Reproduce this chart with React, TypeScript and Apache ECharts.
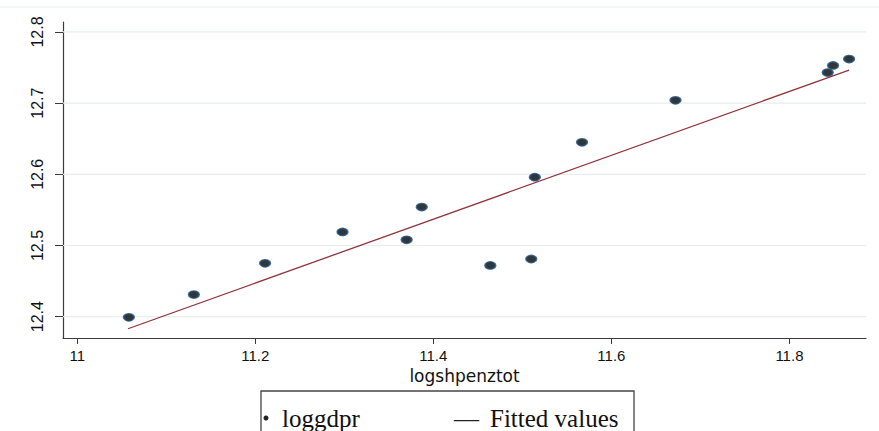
import React, { useEffect, useRef } from 'react';
import * as echarts from 'echarts';

const xValues = [11.058, 11.131, 11.211, 11.298, 11.370, 11.387, 11.464, 11.510, 11.514, 11.567, 11.672, 11.843, 11.849, 11.867];
const yValues = [12.399, 12.431, 12.475, 12.519, 12.508, 12.554, 12.472, 12.481, 12.596, 12.645, 12.704, 12.743, 12.753, 12.762];
const fittedX = [11.057, 11.867];
const fittedY = [12.383, 12.7465];
const xTicks = [11, 11.2, 11.4, 11.6, 11.8];
const yTicks = [12.4, 12.5, 12.6, 12.7, 12.8];
const xRange = [10.984, 11.886];
const yRange = [12.37, 12.814];
const xAxisTitle = 'logshpenztot';
const legendLabels = ['loggdpr', 'Fitted values'];

export default function App() {
  const ref = useRef<HTMLDivElement>(null);
  useEffect(() => {
    const chart = echarts.init(ref.current!, null, { renderer: 'svg' });
    const axisColor = '#3a3a3a';
    const gridSeries = yTicks.map((v) => ({
      type: 'line',
      data: [[xRange[0], v], [xRange[1], v]],
      showSymbol: false,
      silent: true,
      z: 0,
      lineStyle: { color: '#e6eef0', width: 1.2 },
    }));
    chart.setOption({
      animation: false,
      backgroundColor: '#ffffff',
      grid: { left: 63, right: 13, top: 22, bottom: 93 },
      xAxis: {
        type: 'value',
        min: xRange[0],
        max: xRange[1],
        axisLine: { show: true, lineStyle: { color: axisColor, width: 1.2 } },
        axisTick: { show: true, customValues: xTicks, length: 6, lineStyle: { color: axisColor } },
        axisLabel: { customValues: xTicks, fontSize: 15, color: '#111', fontFamily: 'Liberation Sans', margin: 10 },
        splitLine: { show: false },
        name: xAxisTitle,
        nameLocation: 'middle',
        nameGap: 17,
        nameTextStyle: { fontFamily: 'DejaVu Sans', fontSize: 17, color: '#111' },
      },
      yAxis: {
        type: 'value',
        min: yRange[0],
        max: yRange[1],
        axisLine: { show: true, lineStyle: { color: axisColor, width: 1.2 } },
        axisTick: { show: true, customValues: yTicks, length: 8, lineStyle: { color: axisColor } },
        axisLabel: { customValues: yTicks, rotate: 90, fontSize: 16, color: '#111', fontFamily: 'Liberation Sans', margin: 18 },
        splitLine: { show: false },
      },
      series: [
        ...gridSeries,
        {
          type: 'line',
          name: legendLabels[1],
          data: fittedX.map((x, i) => [x, fittedY[i]]),
          showSymbol: false,
          z: 2,
          lineStyle: { color: '#90353b', width: 1.3 },
        },
        {
          type: 'scatter',
          name: legendLabels[0],
          data: xValues.map((x, i) => [x, yValues[i]]),
          symbol: 'circle',
          symbolSize: [10, 7],
          z: 3,
          itemStyle: { color: '#030303', borderColor: '#1a476f', borderWidth: 2 },
        },
      ],
      graphic: [
        { type: 'line', shape: { x1: 0, y1: 7, x2: 879, y2: 7 }, style: { stroke: '#e6eef0', lineWidth: 1 } },
        { type: 'rect', shape: { x: 261, y: 391, width: 373, height: 60 }, style: { fill: '#fff', stroke: '#444', lineWidth: 1.3 } },
        { type: 'circle', shape: { cx: 266, cy: 418, r: 2.5 }, style: { fill: '#222' } },
        { type: 'text', x: 282, y: 418, style: { text: legendLabels[0], fontSize: 25, fontFamily: 'Liberation Serif', fill: '#111', verticalAlign: 'middle' } },
        { type: 'text', x: 454, y: 418, style: { text: '—', fontSize: 25, fontFamily: 'Liberation Serif', fill: '#222', verticalAlign: 'middle' } },
        { type: 'text', x: 490, y: 418, style: { text: legendLabels[1], fontSize: 25, fontFamily: 'Liberation Serif', fill: '#111', verticalAlign: 'middle' } },
      ],
    });
    return () => chart.dispose();
  }, []);
  return <div ref={ref} style={{ position: 'fixed', left: 0, top: 0, width: 879, height: 431 }} />;
}
